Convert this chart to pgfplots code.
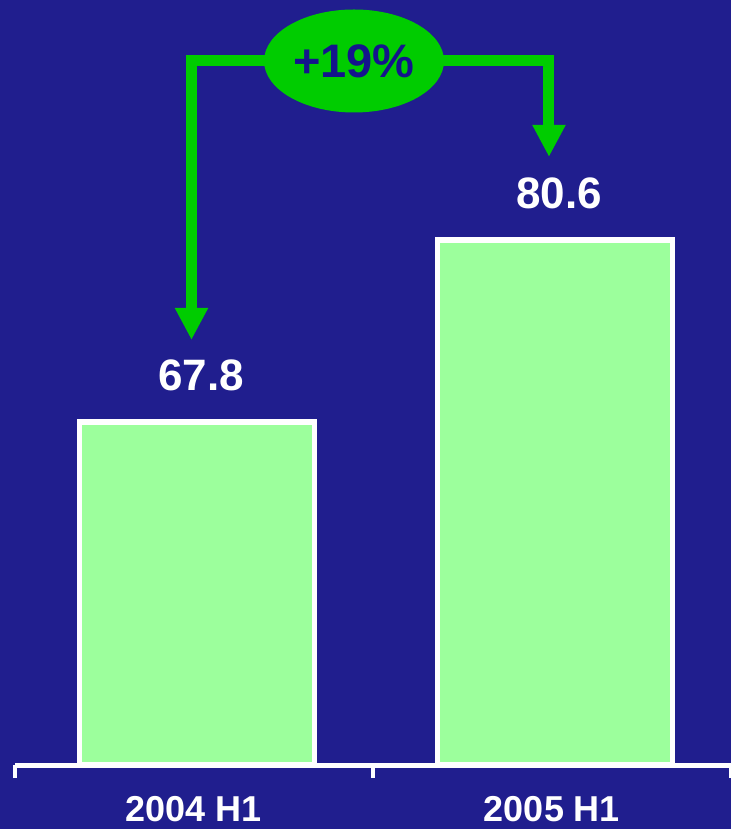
\documentclass[border=0pt]{standalone}
\usepackage{pgfplots}
\pgfplotsset{compat=1.18}
\usepackage{fontspec}
\setmainfont{Liberation Sans}
\usetikzlibrary{arrows.meta,shapes.geometric}
\definecolor{bgblue}{RGB}{32,30,142}
\definecolor{barfill}{RGB}{156,255,156}
\definecolor{arrgreen}{RGB}{0,204,0}
\definecolor{txtblue}{RGB}{20,20,140}
\begin{document}
\begin{tikzpicture}
\fill[bgblue, use as bounding box] (-7.5pt,-32pt) rectangle (358pt,382.5pt);
\begin{axis}[
 at={(0,0)}, anchor=south west, scale only axis, width=358pt, height=382.5pt,
 xmin=-0.5, xmax=1.5, ymin=43.677, ymax=97.48,
 axis x line*=bottom, axis y line=none,
 x axis line style={white, line width=2.5pt},
 xtick={0,1}, xticklabels={2004 H1, 2005 H1},
 major tick length=0pt,
 minor xtick={-0.5,0.5,1.5},
 minor tick length=6.5pt, tick align=outside,
 minor tick style={white, line width=1.8pt},
 xticklabel style={font=\fontsize{18}{21}\selectfont\bfseries, text=white, anchor=base, yshift=-28pt},
 ybar, bar width=117.5pt, bar shift=1.5pt,
 clip=false, axis on top,
 nodes near coords={\pgfmathprintnumber[fixed,fixed zerofill,precision=1,assume math mode=true]{\pgfplotspointmeta}},
 every node near coord/.append style={font=\fontsize{22}{26}\selectfont\bfseries, text=white, anchor=base, yshift=16pt, xshift=2pt},
]
\addplot[fill=barfill, draw=white, line width=2.6pt] coordinates {(0,67.8) (1,80.6)};
\draw[arrgreen, line width=5.5pt, line join=miter, -{Triangle[width=15.5pt,length=16pt]}] (axis cs:0.447,93.19) -| (axis cs:0.9916,86.44);
\draw[arrgreen, line width=5.5pt, line join=miter, -{Triangle[width=15.5pt,length=16pt]}] (axis cs:0.447,93.19) -| (axis cs:-0.007,73.57);
\node[ellipse, fill=arrgreen, minimum width=90pt, minimum height=51.5pt, inner sep=0pt, text=txtblue, font=\fontsize{23.5}{27}\selectfont\bfseries] at (axis cs:0.447,93.19) {+19\%};
\end{axis}
\end{tikzpicture}
\end{document}
